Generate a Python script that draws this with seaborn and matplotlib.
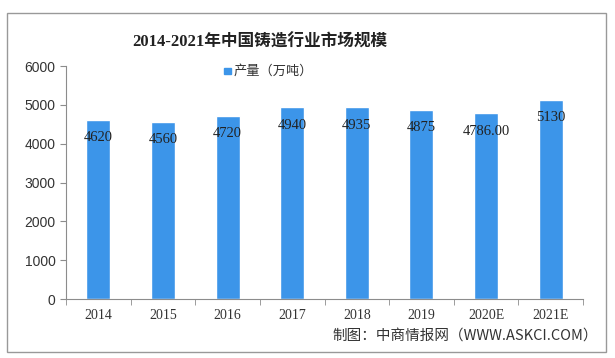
import matplotlib
matplotlib.use("Agg")
import matplotlib.pyplot as plt
import seaborn as sns
import pandas as pd
from matplotlib.patches import Rectangle

years = ["2014", "2015", "2016", "2017", "2018", "2019", "2020E", "2021E"]
output = [4620, 4560, 4720, 4940, 4935, 4875, 4786, 5130]
value_labels = ["4620", "4560", "4720", "4940", "4935", "4875", "4786.00", "5130"]
series_name = "产量（万吨）"
title = "2014-2021年中国铸造行业市场规模"
source = "制图：中商情报网（WWW.ASKCI.COM）"

bar_color = "#3C95E9"
axis_color = "#8C8C8C"

sns.set_style("white")
plt.rcParams["font.family"] = ["Liberation Sans", "Noto Sans CJK SC"]
serif = ["Liberation Serif", "Noto Sans CJK SC"]

df = pd.DataFrame({"year": years, "value": output})

fig = plt.figure(figsize=(6.15, 3.58), dpi=100)
ax = fig.add_axes([0.1073, 0.1648, 0.8407, 0.6508])

sns.barplot(data=df, x="year", y="value", color=bar_color, width=0.37,
            saturation=1, ax=ax)

ax.set_ylim(0, 6000)
ax.set_xlim(-0.5, len(years) - 0.5)
ax.set_yticks(range(0, 6001, 1000))
ax.set_xlabel("")
ax.set_ylabel("")

for s in ["top", "right"]:
    ax.spines[s].set_visible(False)
for s in ["left", "bottom"]:
    ax.spines[s].set_color(axis_color)
    ax.spines[s].set_linewidth(0.8)

ax.tick_params(axis="y", length=4, color=axis_color, labelsize=10,
               labelcolor="#333333", left=True)
ax.set_xticks([i - 0.5 for i in range(len(years) + 1)], minor=True)
ax.tick_params(axis="x", which="major", length=0, pad=7, labelsize=10,
               labelcolor="#333333")
ax.tick_params(axis="x", which="minor", length=4, color=axis_color, bottom=True)
for lbl in ax.get_xticklabels():
    lbl.set_family(serif)

for i, (v, t) in enumerate(zip(output, value_labels)):
    ax.annotate(t, (i, v), xytext=(0, -13), textcoords="offset points",
                ha="center", va="center", fontsize=10.5, family=serif,
                color="#222222")

fig.text(0.423, 0.88, title, ha="center", va="center", fontsize=12,
         fontweight="bold", family=serif, color="#222222")

# legend
fig.patches.append(Rectangle((0.365, 0.792), 0.011, 0.019,
                             transform=fig.transFigure, color=bar_color))
fig.text(0.379, 0.802, series_name, ha="left", va="center", fontsize=9.5,
         color="#333333", family=["Noto Sans CJK SC"])

fig.text(0.973, 0.062, source, ha="right", va="center", fontsize=10.5,
         color="#333333", family=["Noto Sans CJK SC"])

# outer frame
fig.patches.append(Rectangle((0.012, 0.017), 0.974, 0.947, transform=fig.transFigure,
                             fill=False, edgecolor="#999999", linewidth=1))

fig.savefig("out.png", dpi=100)
